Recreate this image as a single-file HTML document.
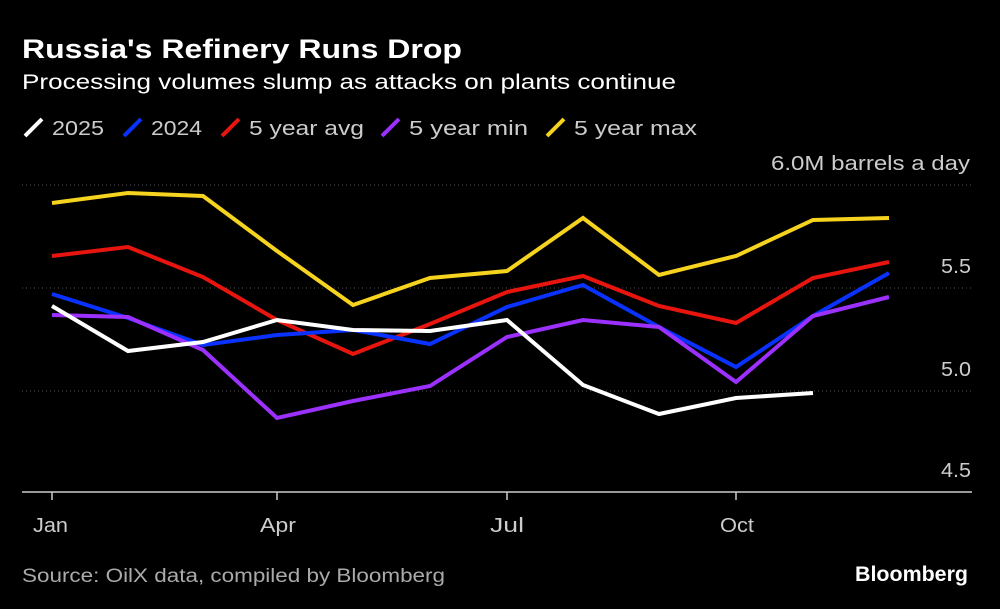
<!DOCTYPE html>
<html><head><meta charset="utf-8"><style>
body{margin:0;background:#000;}
svg{display:block;font-family:"Liberation Sans",sans-serif;}
</style></head><body>
<svg width="1000" height="609" viewBox="0 0 1000 609" xmlns="http://www.w3.org/2000/svg">
<rect width="1000" height="609" fill="#000"/>
<text x="22" y="58" fill="#fff" font-size="27" font-weight="bold" textLength="440" lengthAdjust="spacingAndGlyphs">Russia's Refinery Runs Drop</text>
<text x="22" y="89" fill="#fff" font-size="21" textLength="654" lengthAdjust="spacingAndGlyphs">Processing volumes slump as attacks on plants continue</text>
<g font-size="20" fill="#ccc" stroke-width="4" stroke-linecap="butt">
<line x1="25" y1="136" x2="42" y2="119" stroke="#fff"/><text x="52" y="135" textLength="52" lengthAdjust="spacingAndGlyphs">2025</text>
<line x1="124" y1="136" x2="141" y2="119" stroke="#0a32ff"/><text x="151" y="135" textLength="51" lengthAdjust="spacingAndGlyphs">2024</text>
<line x1="222" y1="136" x2="239" y2="119" stroke="#e8150f"/><text x="249" y="135" textLength="115" lengthAdjust="spacingAndGlyphs">5 year avg</text>
<line x1="382" y1="136" x2="399" y2="119" stroke="#9b30ff"/><text x="409" y="135" textLength="119" lengthAdjust="spacingAndGlyphs">5 year min</text>
<line x1="547" y1="136" x2="564" y2="119" stroke="#f5d31e"/><text x="574" y="135" textLength="123" lengthAdjust="spacingAndGlyphs">5 year max</text>
</g>
<g stroke="#555" stroke-dasharray="1,3" stroke-width="1">
<line x1="22" y1="185" x2="972" y2="185"/>
<line x1="22" y1="288" x2="972" y2="288"/>
<line x1="22" y1="391" x2="972" y2="391"/>
</g>
<line x1="22" y1="492" x2="972" y2="492" stroke="#ccc" stroke-width="1.5"/>
<g stroke="#ccc" stroke-width="1.5">
<line x1="52" y1="492" x2="52" y2="500"/><line x1="277" y1="492" x2="277" y2="500"/>
<line x1="507" y1="492" x2="507" y2="500"/><line x1="736" y1="492" x2="736" y2="500"/>
</g>
<g fill="#ccc" font-size="20">
<text x="771" y="170" textLength="199" lengthAdjust="spacingAndGlyphs">6.0M barrels a day</text>
<text x="941" y="273" textLength="30" lengthAdjust="spacingAndGlyphs">5.5</text>
<text x="941" y="376" textLength="30" lengthAdjust="spacingAndGlyphs">5.0</text>
<text x="941" y="477" textLength="30" lengthAdjust="spacingAndGlyphs">4.5</text>
</g>
<g fill="#ccc" font-size="20">
<text x="33" y="532" textLength="35" lengthAdjust="spacingAndGlyphs">Jan</text>
<text x="260" y="532" textLength="36" lengthAdjust="spacingAndGlyphs">Apr</text>
<text x="490" y="532" textLength="34" lengthAdjust="spacingAndGlyphs">Jul</text>
<text x="720" y="532" textLength="34" lengthAdjust="spacingAndGlyphs">Oct</text>
</g>
<g fill="none" stroke-width="4" stroke-linejoin="miter">
<polyline stroke="#f5d31e" points="52,203 128,193 203,196 277,251 353,305 430,278 507,271 583,218 659,275 736,256 813,220 889,218"/>
<polyline stroke="#e8150f" points="52,256 128,247 203,277 277,320 353,354 430,324 507,292 583,276 659,306 736,323 813,278 889,262"/>
<polyline stroke="#0a32ff" points="52,294 128,318 203,345 277,335 353,330 430,344 507,307 583,285 659,327 736,367 813,316 889,273"/>
<polyline stroke="#9b30ff" points="52,315 128,317 203,350 277,418 353,401 430,386 507,337 583,320 659,327 736,382 813,316 889,297"/>
<polyline stroke="#fff" points="52,306 128,351 203,342 277,320 353,330 430,331 507,320 583,385 659,414 736,398 813,393"/>
</g>
<text x="22" y="582" fill="#aaa" font-size="19" textLength="423" lengthAdjust="spacingAndGlyphs">Source: OilX data, compiled by Bloomberg</text>
<text x="855" y="581" fill="#fff" font-size="21" font-weight="bold" textLength="113" lengthAdjust="spacingAndGlyphs">Bloomberg</text>
</svg>
</body></html>
